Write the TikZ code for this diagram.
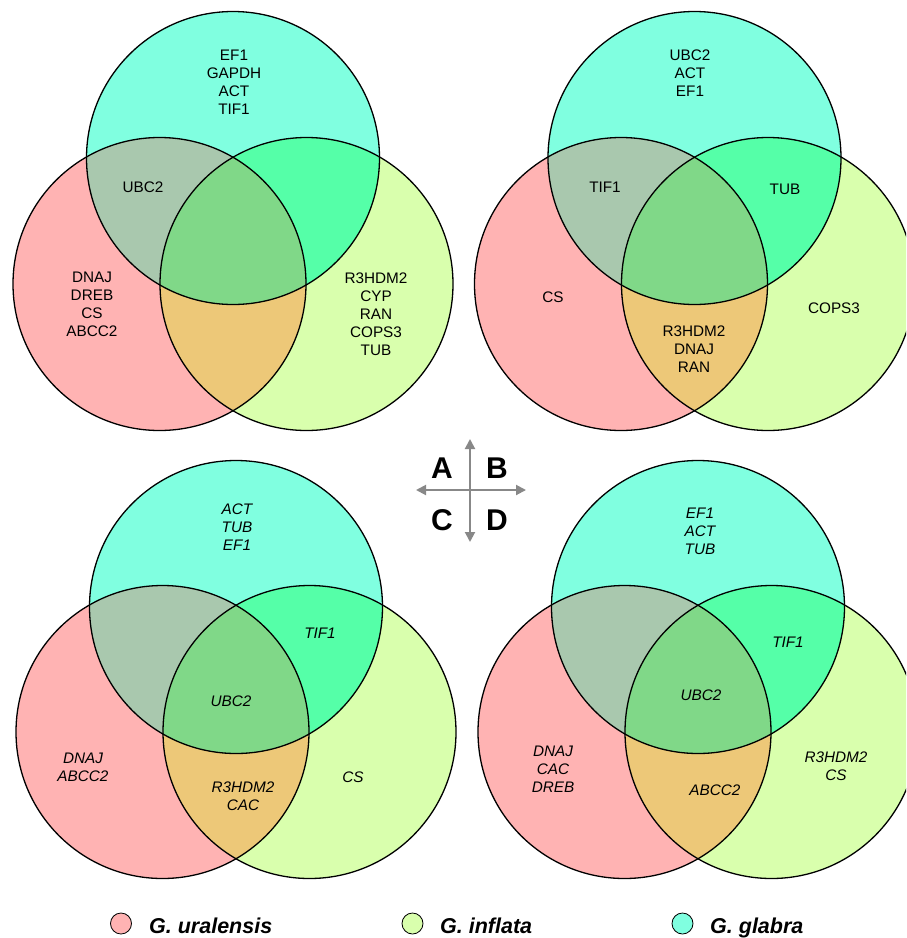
\documentclass[tikz,border=0pt]{standalone}
\usepackage{fontspec}
\setmainfont{Liberation Sans}
\usetikzlibrary{arrows.meta}
\definecolor{cpink}{HTML}{FFB3B3}
\definecolor{clime}{HTML}{D9FFAD}
\definecolor{ccyan}{HTML}{80FFE0}
\definecolor{cpc}{HTML}{A9C8AE}
\definecolor{ccl}{HTML}{55FFA8}
\definecolor{cpl}{HTML}{EDC878}
\definecolor{call}{HTML}{80D888}
\definecolor{agray}{HTML}{888888}
\tikzset{
  vtext/.style={font=\fontsize{15.3}{18}\selectfont, align=center, inner sep=0pt, text=black},
  vital/.style={font=\fontsize{15.3}{18}\selectfont\itshape, align=center, inner sep=0pt, text=black},
  outline/.style={draw=black, line width=1.3pt},
  axis/.style={draw=agray, line width=2pt, {Triangle[length=10pt,width=10pt]}-{Triangle[length=10pt,width=10pt]}},
  quad/.style={font=\fontsize{30}{30}\selectfont\bfseries, inner sep=0pt, anchor=base},
  legtext/.style={font=\fontsize{21.5}{22}\selectfont\bfseries\itshape, inner sep=0pt, anchor=base west},
  legdot/.style={draw=black, line width=0.8pt},
}
\newcommand\myvenn[4]{%
  \begin{scope}[shift={(#1,#2)}]
    \coordinate (#4T) at (0,0);
    \coordinate (#4L) at (-73.5,#3);
    \coordinate (#4R) at (73.5,#3);
    \fill[cpink] (#4L) circle[radius=146.5];
    \fill[clime] (#4R) circle[radius=146.5];
    \fill[ccyan] (#4T) circle[radius=146.5];
    \begin{scope}\clip (#4L) circle[radius=146.5];
      \fill[cpc] (#4T) circle[radius=146.5];
      \fill[cpl] (#4R) circle[radius=146.5];
      \clip (#4R) circle[radius=146.5];
      \fill[call] (#4T) circle[radius=146.5];
    \end{scope}
    \begin{scope}\clip (#4R) circle[radius=146.5];
      \clip (#4T) circle[radius=146.5];
      \fill[ccl] (#4T) circle[radius=146.5];
      \clip (#4L) circle[radius=146.5];
      \fill[call] (#4T) circle[radius=146.5];
    \end{scope}
    \draw[outline] (#4L) circle[radius=146.5];
    \draw[outline] (#4R) circle[radius=146.5];
    \draw[outline] (#4T) circle[radius=146.5];
  \end{scope}}
\begin{document}
\begin{tikzpicture}[x=1pt,y=-1pt]
\useasboundingbox (0,0) rectangle (906,938);
\clip (0,0) rectangle (906,938);

% Venn A
\myvenn{233}{158}{126}{a}
\node[vtext] (a1) at (234,82) {EF1\\GAPDH\\ACT\\TIF1};
\node[vtext] (a2) at (143,187) {UBC2};
\node[vtext] (a3) at (92,304.5) {DNAJ\\DREB\\CS\\ABCC2};
\node[vtext] (a4) at (376,314) {R3HDM2\\CYP\\RAN\\COPS3\\TUB};

% Venn B
\myvenn{694.5}{158}{126}{b}
\node[vtext] (b1) at (690,73) {UBC2\\ACT\\EF1};
\node[vtext] (b2) at (605,187) {TIF1};
\node[vtext] (b3) at (785,189) {TUB};
\node[vtext] (b4) at (553,297) {CS};
\node[vtext] (b5) at (834,308) {COPS3};
\node[vtext] (b6) at (694,349) {R3HDM2\\DNAJ\\RAN};

% Venn C
\myvenn{236}{607}{125}{c}
\node[vital] (c1) at (237,527) {ACT\\TUB\\EF1};
\node[vital] (c2) at (320,633) {TIF1};
\node[vital] (c3) at (231,701) {UBC2};
\node[vital] (c4) at (83,767.5) {DNAJ\\ABCC2};
\node[vital] (c5) at (243,796) {R3HDM2\\CAC};
\node[vital] (c6) at (353,777) {CS};

% Venn D
\myvenn{698}{607}{125}{d}
\node[vital] (d1) at (700,531) {EF1\\ACT\\TUB};
\node[vital] (d2) at (788,642) {TIF1};
\node[vital] (d3) at (701,695) {UBC2};
\node[vital] (d4) at (553,769.5) {DNAJ\\CAC\\DREB};
\node[vital] (d5) at (715,790) {ABCC2};
\node[vital] (d6) at (836,766) {R3HDM2\\CS};

% central axes
\coordinate (ctr) at (470,490);
\coordinate (axN) at (470,439);
\coordinate (axS) at (470,542);
\coordinate (axW) at (416,490);
\coordinate (axE) at (526,490);
\draw[axis] (axN) -- (axS);
\draw[axis] (axW) -- (axE);
\node[quad] (qa) at (442,478) {A};
\node[quad] (qb) at (497,478) {B};
\node[quad] (qc) at (442,530) {C};
\node[quad] (qd) at (497,530) {D};

% legend
\filldraw[legdot, fill=cpink] (121,923.5) circle[radius=10.5];
\node[legtext] (l1) at (149,933) {G. uralensis};
\filldraw[legdot, fill=clime] (412.5,923.5) circle[radius=10.5];
\node[legtext] (l2) at (440,933) {G. inflata};
\filldraw[legdot, fill=ccyan] (682.5,923.5) circle[radius=10.5];
\node[legtext] (l3) at (710,933) {G. glabra};
\end{tikzpicture}
\end{document}
